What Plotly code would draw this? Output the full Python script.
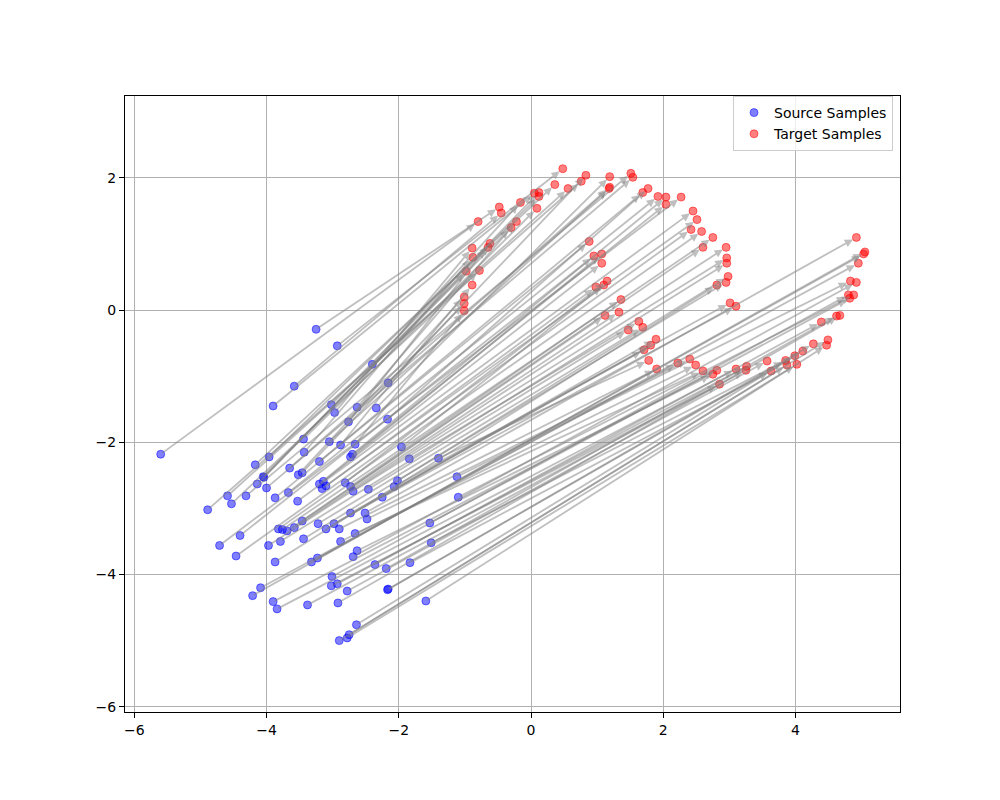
import plotly.graph_objects as go

# Source samples (paired in order with targets)
src_x = [-3.25, -5.60, -2.93, -3.58, -3.90, -2.40, -3.02, -4.17, -3.96, -2.97,
         -2.16, -3.44, -2.63, -4.59, -4.89, -4.05, -2.76, -4.04, -3.43, -4.14,
         -2.34, -4.53, -4.31, -3.65, -3.05, -4.00, -2.88, -3.52, -3.46, -3.20,
         -2.17, -2.66, -3.87, -3.67, -2.70, -2.73, -4.71, -4.40, -3.20, -3.14,
         -3.53, -3.16, -3.10, -2.81, -1.96, -4.46, -3.82, -3.76, -2.73, -3.69,
         -3.46, -3.58, -3.97, -2.69, -3.79, -1.84, -2.46, -3.22, -3.44, -3.87,
         -2.02, -3.10, -2.98, -2.73, -2.07, -1.40, -2.25, -2.90, -2.51, -4.09,
         -2.48, -4.21, -2.88, -3.32, -3.23, -2.66, -1.12, -3.90, -2.63, -2.69,
         -3.84, -3.01, -1.10, -3.02, -2.93, -1.53, -3.38, -2.36, -2.78, -2.19,
         -2.92, -1.51, -1.83, -2.16, -2.17, -2.64, -2.90, -2.75, -2.78, -1.59]
src_y = [-0.29, -2.18, -0.54, -1.15, -1.45, -0.82, -1.43, -2.34, -2.22, -1.55,
         -1.10, -1.95, -1.47, -2.81, -3.02, -2.52, -1.69, -2.53, -2.15, -2.63,
         -1.48, -2.93, -2.81, -2.39, -1.99, -2.69, -2.04, -2.49, -2.46, -2.29,
         -1.65, -2.03, -2.84, -2.76, -2.18, -2.22, -3.56, -3.41, -2.63, -2.59,
         -2.89, -2.70, -2.66, -2.61, -2.07, -3.72, -3.31, -3.32, -2.67, -3.34,
         -3.19, -3.29, -3.56, -2.74, -3.50, -2.25, -2.71, -3.23, -3.46, -3.81,
         -2.58, -3.31, -3.23, -3.07, -2.67, -2.24, -2.83, -3.31, -3.07, -4.20,
         -3.16, -4.32, -3.50, -3.81, -3.75, -3.38, -2.52, -4.41, -3.64, -3.73,
         -4.52, -4.03, -2.83, -4.17, -4.14, -3.22, -4.46, -3.85, -4.25, -3.91,
         -4.43, -3.52, -3.82, -4.22, -4.23, -4.76, -5.00, -4.91, -4.96, -4.40]

# Target samples
tgt_x = [-0.48, -0.80, 0.48, -0.45, 0.05, -0.16, 0.12, 0.36, 0.12, -0.89,
         0.83, 0.09, -0.22, 0.56, 0.76, -0.30, -0.62, -0.65, -0.88, -0.98,
         1.19, -0.78, 1.51, 1.19, 1.18, 1.54, -0.89, -1.01, -1.01, 1.69,
         1.77, -1.01, 0.88, 1.92, 2.04, 2.04, 2.27, 0.95, 1.07, 1.07,
         2.45, 2.51, 0.98, 1.15, 1.10, 2.42, 2.58, 2.75, 1.36, 2.60,
         1.12, 1.33, 2.95, 2.96, 2.96, 1.63, 1.47, 1.69, 2.98, 2.81,
         2.95, 1.89, 1.81, 1.71, 3.01, 1.78, 3.10, 1.90, 4.92, 2.22,
         2.40, 5.05, 2.49, 5.03, 4.95, 2.60, 4.83, 2.81, 2.75, 4.92,
         3.10, 4.80, 4.88, 2.85, 3.26, 4.82, 3.25, 4.39, 3.57, 4.62,
         4.67, 3.85, 3.63, 3.99, 4.27, 4.11, 3.87, 4.49, 4.02, 4.47]
tgt_y = [1.56, 1.34, 2.14, 1.47, 1.77, 1.63, 1.78, 1.90, 1.72, 0.94,
         2.04, 1.54, 1.34, 1.84, 1.95, 1.25, 1.01, 0.95, 0.80, 0.59,
         2.02, 0.60, 2.07, 1.86, 1.84, 2.01, 0.38, 0.20, 0.10, 1.78,
         1.84, -0.01, 1.04, 1.72, 1.71, 1.60, 1.71, 0.82, 0.85, 0.71,
         1.50, 1.37, 0.35, 0.44, 0.38, 1.22, 1.19, 1.10, 0.16, 0.95,
         -0.08, -0.03, 0.95, 0.79, 0.71, -0.17, -0.30, -0.26, 0.51, 0.38,
         0.42, -0.44, -0.53, -0.60, 0.11, -0.76, 0.06, -0.89, 1.10, -0.80,
         -0.74, 0.88, -0.83, 0.85, 0.71, -0.92, 0.44, -0.91, -0.97, 0.42,
         -0.89, 0.23, 0.23, -1.12, -0.85, 0.18, -0.91, -0.18, -0.77, -0.09,
         -0.08, -0.76, -0.92, -0.69, -0.51, -0.62, -0.83, -0.45, -0.82, -0.53]

x_ticks = [-6, -4, -2, 0, 2, 4]
y_ticks = [-6, -4, -2, 0, 2]

FONT = "DejaVu Sans"

fig = go.Figure()
fig.add_trace(go.Scatter(
    x=src_x, y=src_y, mode="markers", name="Source Samples",
    marker=dict(size=8, color="rgba(0,0,255,0.5)",
                line=dict(width=1, color="rgba(0,0,255,0.5)")),
))
fig.add_trace(go.Scatter(
    x=tgt_x, y=tgt_y, mode="markers", name="Target Samples",
    marker=dict(size=8, color="rgba(255,0,0,0.5)",
                line=dict(width=1, color="rgba(255,0,0,0.5)")),
))

annotations = []
for sx, sy, tx, ty in zip(src_x, src_y, tgt_x, tgt_y):
    annotations.append(dict(
        x=tx, y=ty, ax=sx, ay=sy,
        xref="x", yref="y", axref="x", ayref="y",
        text="", showarrow=True,
        arrowhead=2, arrowsize=0.9, arrowwidth=1.8,
        arrowcolor="rgba(128,128,128,0.5)",
        standoff=4,
    ))

fig.update_layout(
    width=1000, height=800,
    margin=dict(l=125, r=100, t=96, b=88),
    paper_bgcolor="white", plot_bgcolor="white",
    font=dict(family=FONT, size=14, color="black"),
    annotations=annotations,
    showlegend=True,
    legend=dict(
        x=0.991, y=1.0, xanchor="right", yanchor="top",
        bordercolor="#cccccc", borderwidth=1,
        bgcolor="rgba(255,255,255,0.8)",
        font=dict(family=FONT, size=14),
        tracegroupgap=0,
    ),
)
axis_common = dict(
    showgrid=True, gridcolor="#b0b0b0", gridwidth=1,
    zeroline=False, showline=True, linecolor="black", linewidth=1,
    mirror=True, ticks="outside", ticklen=5, tickcolor="black",
    tickfont=dict(family=FONT, size=14, color="black"),
)
fig.update_xaxes(range=[-6.14, 5.58], tickvals=x_ticks,
                 ticktext=[f"\u2212{abs(v)}" if v < 0 else str(v) for v in x_ticks],
                 **axis_common)
fig.update_yaxes(range=[-6.08, 3.24], tickvals=y_ticks,
                 ticktext=[f"\u2212{abs(v)}" if v < 0 else str(v) for v in y_ticks],
                 **axis_common)

fig.write_html("out.html")
